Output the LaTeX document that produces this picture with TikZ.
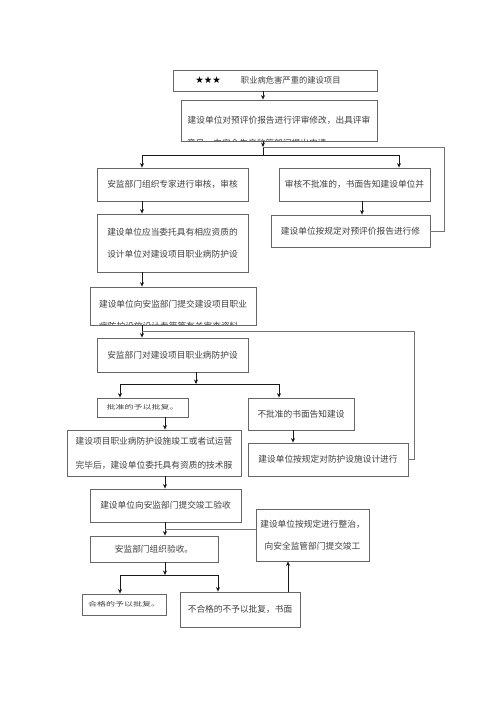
\documentclass[tikz,border=0pt]{standalone}
\usepackage{fontspec}
\setmainfont{Noto Sans CJK SC}
\newfontfamily\starfont{DejaVu Sans}
\usetikzlibrary{arrows.meta,calc}
\begin{document}
\begin{tikzpicture}[x=1pt,y=-1pt,
  box/.style={draw=black!60, line width=0.8pt, inner sep=0pt, text=black!75,
    font=\fontsize{8.7}{22}\selectfont},
  mbox/.style={box, align=center},
  cut/.style={anchor=base west, inner sep=0pt, text=black!75, font=\fontsize{8.7}{10}\selectfont},
  arr/.style={draw=black!90, line width=0.7pt, -{Stealth[length=4.5pt,width=4pt]}},
  ln/.style={draw=black!90, line width=0.7pt},
  fb/.style={draw=black!55, line width=0.8pt}]
\path[use as bounding box, fill=white] (0,0) rectangle (500,707);

% boxes
\node[box, minimum width=204pt, minimum height=21pt] (b1) at (275,80.5)
  {\raisebox{-4pt}{{\starfont\fontsize{9.5}{9.5}\selectfont\color{black}★★★}\hspace{20pt}{\fontsize{8.3}{8.3}\selectfont 职业病危害严重的建设项目}\hspace{14pt}}};
\node[box, minimum width=196pt, minimum height=41pt] (b2) at (279,120.5) {建设单位对预评价报告进行评审修改，出具评审};
\begin{scope}
  \clip (b2.north west) rectangle (b2.south east);
  \node[cut] (b2c) at (187,146) {意见，向安全生产监管部门提出申请};
\end{scope}
\draw[draw=black!60, line width=0.8pt] (b2.south west) -- (b2.south east);

\node[box, minimum width=151pt, minimum height=33pt] (b3l) at (172.5,184.5) {安监部门组织专家进行审核，审核};
\node[box, minimum width=151pt, minimum height=33pt] (b3r) at (354.5,184.5) {审核不批准的，书面告知建设单位并};
\node[mbox, minimum width=151pt, minimum height=58pt] (b4l) at (172.5,243) {建设单位应当委托具有相应资质的\\设计单位对建设项目职业病防护设};
\node[box, minimum width=159pt, minimum height=32pt] (b4r) at (350.5,231) {建设单位按规定对预评价报告进行修};

\node[box, minimum width=166pt, minimum height=38pt] (b5) at (173,306) {\raisebox{4pt}{建设单位向安监部门提交建设项目职业}};
\begin{scope}
  \clip (b5.north west) rectangle (b5.south east);
  \node[cut] (b5c) at (99,329) {病防护设施设计专篇等有关审查资料};
\end{scope}
\draw[draw=black!60, line width=0.8pt] (b5.south west) -- (b5.south east);

\node[box, minimum width=151pt, minimum height=34pt] (b6) at (172.5,355) {安监部门对建设项目职业病防护设};
\node[box, minimum width=91pt, minimum height=19pt] (b7l) at (142.5,407.5)
  {\raisebox{-4pt}{\scalebox{1.5}[1]{\fontsize{6}{6}\selectfont 批准的予以批复。}}};
\node[box, minimum width=106pt, minimum height=32pt] (b7r) at (301,414) {不批准的书面告知建设};
\node[mbox, minimum width=174pt, minimum height=46pt, font=\fontsize{8.7}{24}\selectfont] (b8l) at (154,453)
  {\raisebox{-4pt}{建设项目职业病防护设施竣工或者试运营}\\\raisebox{-4pt}{完毕后，建设单位委托具有资质的技术服}};
\node[box, minimum width=160pt, minimum height=33pt] (b8r) at (328,459.5) {建设单位按规定对防护设施设计进行};
\node[box, minimum width=151pt, minimum height=33pt] (b9) at (165.5,505.5) {建设单位向安监部门提交竣工验收};
\node[mbox, minimum width=113pt, minimum height=52pt] (b9r) at (312.5,535) {建设单位按规定进行整治，\\向安全监管部门提交竣工};
\node[box, minimum width=128pt, minimum height=26pt] (b10) at (154,549) {安监部门组织验收。\hspace{24pt}};
\node[box, minimum width=84pt, minimum height=21pt] (b11l) at (124,604.5)
  {\raisebox{-3.5pt}{\scalebox{1.5}[1]{\fontsize{6}{6}\selectfont 合格的予以批复。}}};
\node[box, minimum width=120pt, minimum height=35pt] (b11r) at (240,609.5) {不合格的不予以批复，书面};

% junction coordinates
\coordinate (c1) at (263,147);
\coordinate (c2) at (263,155);
\coordinate (dL) at (142,155);
\coordinate (dR) at (399,155);
\coordinate (f1) at (444,147);
\coordinate (xr1) at (362,0);
\coordinate (f2) at (414,331);
\coordinate (s2) at (196,384);
\coordinate (s2L) at (120,384);
\coordinate (s2R) at (279,384);
\coordinate (x165) at (165,0);
\coordinate (x293) at (293,0);
\coordinate (f3) at (165,529);
\coordinate (s3) at (165,575);
\coordinate (s3L) at (120,575);
\coordinate (s3R) at (218,575);
\coordinate (x288) at (288,0);

% connectors
\draw[arr] (b1.south -| c1) -- (b2.north -| c1);
\draw[arr] (b2.south -| c1) -- (c1);
\draw[ln] (c1) -- (c2);
\draw[ln] (dL) -- (dR);
\draw[arr] (dL) -- (b3l.north -| dL);
\draw[arr] (dR) -- (b3r.north -| dR);
\draw[fb] (b4r.east) -- (b4r.east -| f1) -- (f1) -- (c1);
\draw[arr] (b3l.south -| dL) -- (b4l.north -| dL);
\draw[arr] (b3r.south -| xr1) -- (b4r.north -| xr1);
\draw[arr] (b4l.south -| dL) -- (b5.north -| dL);
\draw[arr] (b5.south -| dL) -- (b6.north -| dL);
\draw[fb] (b8r.east) -- (b8r.east -| f2) -- (f2) -- (f2 -| dL);
\draw[arr] (b6.south -| s2) -- (s2);
\draw[ln] (s2L) -- (s2R);
\draw[arr] (s2L) -- (b7l.north -| s2L);
\draw[arr] (s2R) -- (b7r.north -| s2R);
\draw[arr] (b7l.south -| x165) -- (b8l.north -| x165);
\draw[arr] (b7r.south -| x293) -- (b8r.north -| x293);
\draw[arr] (b8l.south -| x165) -- (b9.north -| x165);
\draw[arr] (b9.south -| x165) -- (b10.north -| x165);
\draw[fb] (b9r.west |- f3) -- (f3);
\draw[arr] (b10.south -| s3) -- (s3);
\draw[ln] (s3L) -- (s3R);
\draw[arr] (s3L) -- (b11l.north -| s3L);
\draw[arr] (s3R) -- (b11r.north -| s3R);
\draw[arr] (b11r.north -| x288) -- (b9r.south -| x288);
\end{tikzpicture}
\end{document}
